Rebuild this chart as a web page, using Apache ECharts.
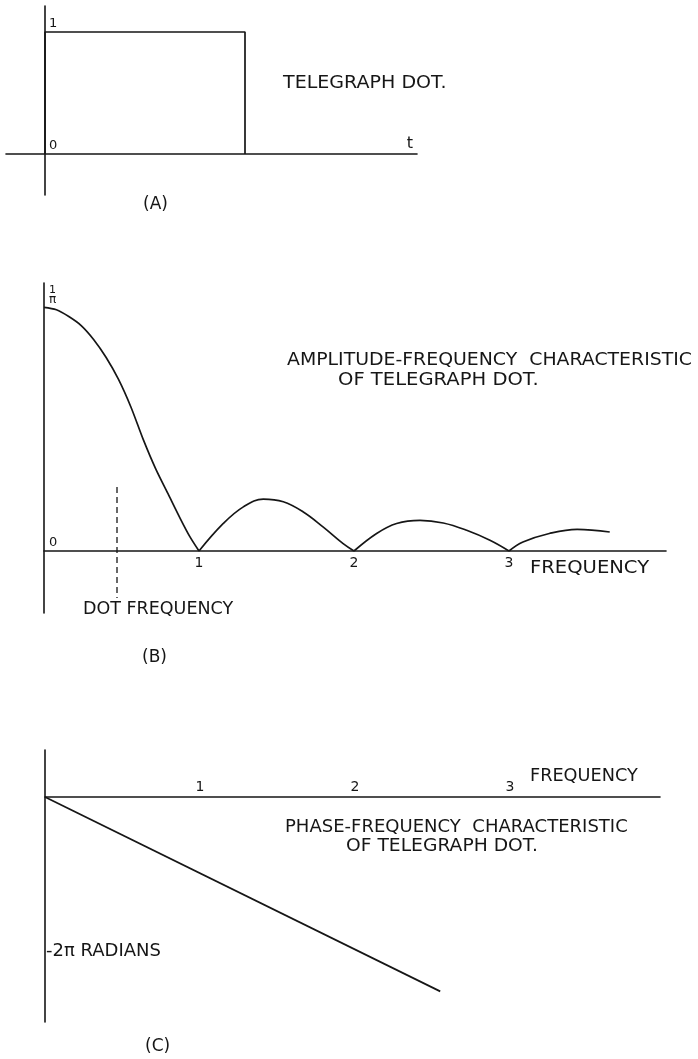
<!DOCTYPE html>
<html><head><meta charset="utf-8">
<script src="https://cdn.jsdelivr.net/npm/echarts@6/dist/echarts.min.js"></script>
<style>html,body{margin:0;padding:0;background:#fff}#c{width:698px;height:1059px}</style>
</head><body><div id="c"></div>
<script>
// ---- Panel A: telegraph dot (time, level)
const dotPulse = [[0, 0], [0, 1], [1, 1], [1, 0]];
const dotTickValues = [0, 1];
const dotTickLabels = ['0', '1'];

// ---- Panel B: amplitude-frequency characteristic (amplitude in units of 1/π)
const ampLobe0 = [[0, 1], [0.08, 0.99], [0.16, 0.962], [0.24, 0.925], [0.32, 0.868], [0.4, 0.795],
  [0.48, 0.705], [0.56, 0.592], [0.64, 0.458], [0.72, 0.338], [0.8, 0.235], [0.88, 0.132], [0.94, 0.06], [1, 0]];
const ampLobe1 = [[1, 0], [1.157, 0.113], [1.286, 0.181], [1.415, 0.213], [1.544, 0.202], [1.673, 0.16],
  [1.8, 0.099], [1.93, 0.03], [2, 0]];
const ampLobe2 = [[2, 0], [2.146, 0.072], [2.275, 0.113], [2.426, 0.126], [2.576, 0.115], [2.727, 0.085],
  [2.877, 0.044], [3, 0]];
const ampLobe3 = [[3, 0], [3.09, 0.037], [3.26, 0.072], [3.44, 0.089], [3.65, 0.078]];
const dotFreqMarker = [[0.471, 0.263], [0.471, -0.193]];
const freqTicks = [1, 2, 3];
const ampTickValues = [0, 1];
const ampTickLabels = ['0', '1/π'];

// ---- Panel C: phase-frequency characteristic (radians)
const phaseLine = [[0, 0], [2.55, -7.93]];
const phaseTickValues = [-2 * Math.PI];
const phaseTickLabels = ['-2π RADIANS'];

const INK = '#161616';
const FONT = '"DejaVu Sans"';
function labelFor(values, labels) {
  return function (v) {
    for (let i = 0; i < values.length; i++) if (Math.abs(values[i] - v) < 1e-6) return labels[i];
    return '';
  };
}
const axisLineStyle = { color: INK, width: 1.6 };
function lineSeries(data, xi, extra) {
  return Object.assign({
    type: 'line', xAxisIndex: xi, yAxisIndex: xi, data: data, showSymbol: false, symbol: 'none',
    lineStyle: { color: INK, width: 1.7 }, silent: true
  }, extra || {});
}
function txt(text, x, y, sx, size) {
  return {
    type: 'text', x: x, y: y, scaleX: sx || 1,
    style: { text: text, font: (size || 17) + 'px ' + FONT, fill: INK,
      textAlign: 'left', align: 'left', textVerticalAlign: 'middle', verticalAlign: 'middle' }
  };
}

const chart = echarts.init(document.getElementById('c'), null, { renderer: 'canvas' });
chart.setOption({
  animation: false,
  backgroundColor: '#fff',
  grid: [
    { left: 6, top: 6, width: 411, height: 189 },
    { left: 44, top: 283, width: 622, height: 330 },
    { left: 45, top: 750, width: 615, height: 272 }
  ],
  xAxis: [
    { gridIndex: 0, type: 'value', min: -0.195, max: 1.86, position: 'bottom', offset: -41,
      axisLine: { onZero: false, lineStyle: axisLineStyle }, axisTick: { show: false }, axisLabel: { show: false },
      splitLine: { show: false },
      name: 't', nameLocation: 'end', nameGap: -4,
      nameTextStyle: { align: 'right', verticalAlign: 'bottom', padding: [0, 0, 2, 0], fontSize: 16, fontFamily: FONT, color: INK } },
    { gridIndex: 1, type: 'value', min: 0, max: 4.013, position: 'bottom', offset: -62,
      axisLine: { onZero: false, lineStyle: axisLineStyle }, axisTick: { show: false }, splitLine: { show: false },
      axisLabel: { customValues: freqTicks, margin: 5, fontSize: 14, fontFamily: FONT, color: INK } },
    { gridIndex: 2, type: 'value', min: 0, max: 3.968, position: 'top', offset: -47,
      axisLine: { onZero: false, lineStyle: axisLineStyle }, axisTick: { show: false }, splitLine: { show: false },
      axisLabel: { customValues: freqTicks, margin: 3, fontSize: 14, fontFamily: FONT, color: INK } }
  ],
  yAxis: [
    { gridIndex: 0, type: 'value', min: -0.336, max: 1.213, position: 'left', offset: -39,
      axisLine: { onZero: false, lineStyle: axisLineStyle }, axisTick: { show: false }, splitLine: { show: false },
      axisLabel: { customValues: dotTickValues, inside: true, margin: 4, verticalAlign: 'bottom',
        padding: [0, 0, 2, 0], fontSize: 13, fontFamily: FONT, color: INK,
        formatter: labelFor(dotTickValues, dotTickLabels) } },
    { gridIndex: 1, type: 'value', min: -0.2544, max: 1.0997,
      axisLine: { onZero: false, lineStyle: axisLineStyle }, axisTick: { show: false }, splitLine: { show: false },
      axisLabel: { customValues: ampTickValues, inside: true, margin: 5, verticalAlign: 'bottom',
        padding: [0, 0, 2, 0], fontSize: 13, fontFamily: FONT, color: INK,
        formatter: function (v) {
          const s = labelFor(ampTickValues, ampTickLabels)(v);
          if (s.indexOf('/') > 0) { const p = s.split('/'); return '{n|' + p[0] + '}\n{d|' + p[1] + '}'; }
          return s;
        },
        rich: {
          n: { fontSize: 11, fontFamily: FONT, color: INK, lineHeight: 10, align: 'center' },
          d: { fontSize: 12, fontFamily: FONT, color: INK, lineHeight: 10, align: 'center' }
        } } },
    { gridIndex: 2, type: 'value', min: -9.18, max: 1.918,
      axisLine: { onZero: false, lineStyle: axisLineStyle }, axisTick: { show: false }, splitLine: { show: false },
      axisLabel: { customValues: phaseTickValues, inside: true, margin: 1, fontSize: 18, fontFamily: FONT, color: INK,
        formatter: labelFor(phaseTickValues, phaseTickLabels) } }
  ],
  series: [
    lineSeries(dotPulse, 0),
    lineSeries(ampLobe0, 1, { smooth: 0.3 }),
    lineSeries(ampLobe1, 1, { smooth: 0.4 }),
    lineSeries(ampLobe2, 1, { smooth: 0.4 }),
    lineSeries(ampLobe3, 1, { smooth: 0.4 }),
    lineSeries(dotFreqMarker, 1, { lineStyle: { color: INK, width: 1.3, type: [6, 4] } }),
    lineSeries(phaseLine, 2)
  ],
  graphic: [
    txt('TELEGRAPH DOT.', 283, 84, 1.12),
    txt('(A)', 143, 205, 1, 17),
    txt('AMPLITUDE-FREQUENCY  CHARACTERISTIC', 287, 361, 1.11),
    txt('OF TELEGRAPH DOT.', 338, 381, 1.15),
    txt('FREQUENCY', 530, 569, 1.15),
    txt('DOT FREQUENCY', 83, 610, 1.03),
    txt('(B)', 142, 658, 1, 17),
    txt('FREQUENCY', 530, 777, 1.04),
    txt('PHASE-FREQUENCY  CHARACTERISTIC', 285, 828, 1.06),
    txt('OF TELEGRAPH DOT.', 346, 847, 1.1),
    txt('(C)', 145, 1047, 1, 17)
  ]
});
</script>
</body></html>
